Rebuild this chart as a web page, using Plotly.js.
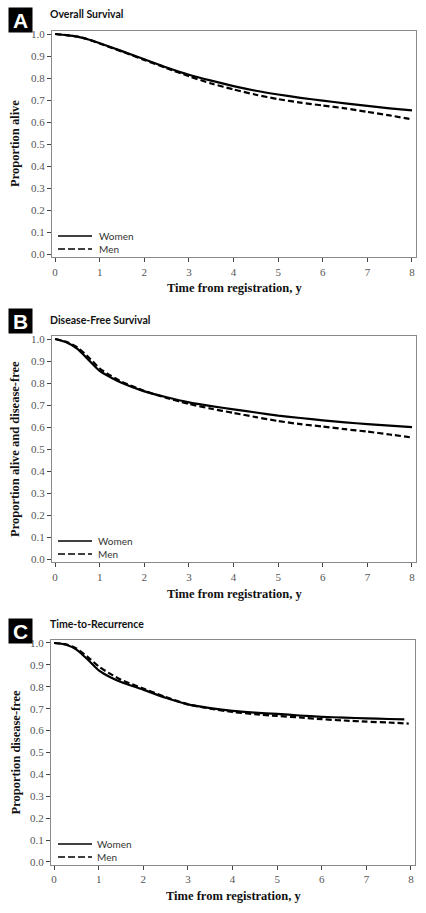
<!DOCTYPE html>
<html>
<head>
<meta charset="utf-8">
<script src="https://cdn.plot.ly/plotly-3.0.1.min.js"></script>
<style>html,body{margin:0;padding:0;background:#fff;}#chart{width:426px;height:913px;}</style>
</head>
<body>
<div id="chart"></div>
<script>
// ---- data ----
const timesA = [0,0.25,0.5,0.75,1,1.5,2,2.5,3,3.5,4,4.5,5,5.5,6,6.5,7,7.5,8];
const womenA = [1.0,0.995,0.988,0.975,0.958,0.922,0.885,0.848,0.815,0.788,0.763,0.742,0.725,0.71,0.697,0.685,0.673,0.662,0.653];
const menA   = [1.0,0.995,0.988,0.975,0.957,0.920,0.882,0.845,0.808,0.775,0.748,0.724,0.704,0.688,0.675,0.662,0.646,0.630,0.612];

const timesB = [0,0.25,0.5,0.75,1,1.25,1.5,2,2.5,3,3.5,4,4.5,5,5.5,6,6.5,7,7.5,8];
const womenB = [1.0,0.985,0.955,0.905,0.855,0.825,0.800,0.762,0.735,0.712,0.695,0.680,0.666,0.652,0.641,0.630,0.621,0.613,0.606,0.599];
const menB   = [1.0,0.987,0.962,0.917,0.866,0.833,0.805,0.764,0.732,0.705,0.683,0.664,0.645,0.627,0.613,0.602,0.590,0.579,0.566,0.552];

const timesCW = [0,0.25,0.5,0.75,1,1.25,1.5,2,2.5,3,3.5,4,4.5,5,5.5,6,6.5,7,7.5,7.85];
const womenC  = [1.0,0.993,0.970,0.925,0.875,0.845,0.822,0.787,0.750,0.720,0.703,0.690,0.682,0.676,0.669,0.663,0.659,0.656,0.653,0.651];
const timesCM = [0,0.25,0.5,0.75,1,1.25,1.5,2,2.5,3,3.5,4,4.5,5,5.5,6,6.5,7,7.5,7.95];
const menC    = [1.0,0.995,0.975,0.937,0.893,0.860,0.832,0.792,0.753,0.720,0.700,0.685,0.675,0.667,0.660,0.652,0.646,0.641,0.637,0.632];

const seriesNames = ["Women","Men"];
const panelLetters = ["A","B","C"];
const panelTitles = ["Overall Survival","Disease-Free Survival","Time-to-Recurrence"];
const yTitles = ["Proportion alive","Proportion alive and disease-free","Proportion disease-free"];
const xTitle = "Time from registration, y";
const xTicks = [0,1,2,3,4,5,6,7,8];
const yTicks = [0,0.1,0.2,0.3,0.4,0.5,0.6,0.7,0.8,0.9,1.0];

// ---- layout helpers ----
const W = 426, H = 913;
const fx = p => p / W;
const fy = p => 1 - p / H;

// per panel pixel geometry
const panels = [
  {y1: 34, y0: 254, xl: 52, xr: 416, letterY: 20, titleY: 14, xtY: 288, legY: [236, 249], textX: 98},
  {y1: 339, y0: 559, xl: 52, xr: 416, letterY: 321, titleY: 320, xtY: 594, legY: [541, 554], textX: 97},
  {y1: 643, y0: 862, xl: 51, xr: 415, letterY: 631, titleY: 624, xtY: 896, legY: [844, 857], textX: 96}
];
const yRange = [-0.015, 1.015];
const xRange = [-0.07, 8.09];

const traces = [
  [timesA, womenA, timesA, menA],
  [timesB, womenB, timesB, menB],
  [timesCW, womenC, timesCM, menC]
];

const data = [];
const layout = {
  width: W, height: H,
  margin: {l: 0, r: 0, t: 0, b: 0, pad: 0},
  paper_bgcolor: '#fff', plot_bgcolor: '#fff',
  showlegend: false,
  annotations: [], shapes: []
};

const serif = 'Liberation Serif, DejaVu Serif, serif';
const sans = 'Lato, Open Sans, sans-serif';

panels.forEach((p, i) => {
  const sfx = i === 0 ? '' : String(i + 1);
  const xa = 'x' + sfx, ya = 'y' + sfx;
  const pxPerUnit = p.y0 - p.y1;
  const top = p.y1 - (yRange[1] - 1) * pxPerUnit;
  const bot = p.y0 + (-yRange[0]) * pxPerUnit;
  const t = traces[i];
  data.push({x: t[0], y: t[1], xaxis: xa, yaxis: ya, type: 'scatter', mode: 'lines', name: seriesNames[0],
             line: {color: '#000', width: 2.2, shape: 'spline', smoothing: 0.6}});
  data.push({x: t[2], y: t[3], xaxis: xa, yaxis: ya, type: 'scatter', mode: 'lines', name: seriesNames[1],
             line: {color: '#000', width: 2.2, dash: '6px,3px', shape: 'spline', smoothing: 0.6}});

  const axCommon = {showline: true, linecolor: '#8a8a8a', linewidth: 1, mirror: true,
    ticks: 'outside', ticklen: 4, tickcolor: '#444', tickwidth: 1,
    showgrid: false, zeroline: false, fixedrange: true,
    tickfont: {family: serif, size: 11, color: '#555'}};
  layout['xaxis' + sfx] = Object.assign({}, axCommon, {
    domain: [fx(p.xl), fx(p.xr)], range: xRange, anchor: ya,
    tickmode: 'array', tickvals: xTicks, ticktext: xTicks.map(String)
  });
  layout['yaxis' + sfx] = Object.assign({}, axCommon, {
    domain: [fy(bot), fy(top)], range: yRange, anchor: xa,
    tickmode: 'array', tickvals: yTicks, ticktext: yTicks.map(v => v.toFixed(1))
  });

  // letter box
  layout.annotations.push({xref: 'paper', yref: 'paper', x: fx(20.5), y: fy(p.letterY),
    xanchor: 'center', yanchor: 'middle', text: '<b>' + panelLetters[i] + '</b>', showarrow: false,
    font: {family: 'Liberation Sans, Arial, sans-serif', size: 21, color: '#fff'},
    bgcolor: '#000', width: 23, height: 24, borderpad: 0});
  // panel title
  layout.annotations.push({xref: 'paper', yref: 'paper', x: fx(48), y: fy(p.titleY),
    xanchor: 'left', yanchor: 'middle', text: '<b>' + panelTitles[i] + '</b>', showarrow: false,
    font: {family: sans, size: 10.5, color: '#111'}});
  // x title
  layout.annotations.push({xref: 'paper', yref: 'paper', x: fx((p.xl + p.xr) / 2), y: fy(p.xtY),
    xanchor: 'center', yanchor: 'middle', text: '<b>' + xTitle + '</b>', showarrow: false,
    font: {family: serif, size: 12.5, color: '#111'}});
  // y title
  layout.annotations.push({xref: 'paper', yref: 'paper', x: fx(15), y: fy((top + bot) / 2),
    xanchor: 'center', yanchor: 'middle', text: '<b>' + yTitles[i] + '</b>', showarrow: false, textangle: -90,
    font: {family: serif, size: 12.5, color: '#111'}});
  // legend: line samples + one two-line text block
  seriesNames.forEach((nm, k) => {
    layout.shapes.push({type: 'line', xref: 'paper', yref: 'paper',
      x0: fx(58), x1: fx(92), y0: fy(p.legY[k]), y1: fy(p.legY[k]),
      line: {color: '#000', width: 1.6, dash: k === 0 ? 'solid' : '7px,3px'}});
  });
  layout.annotations.push({xref: 'paper', yref: 'paper', x: fx(p.textX), y: fy((p.legY[0] + p.legY[1]) / 2),
    xanchor: 'left', yanchor: 'middle', align: 'left', text: seriesNames.join('<br>'), showarrow: false,
    borderpad: 0, font: {family: sans, size: 10, color: '#333'}});
});

Plotly.newPlot('chart', data, layout, {staticPlot: true, displayModeBar: false});
</script>
</body>
</html>
